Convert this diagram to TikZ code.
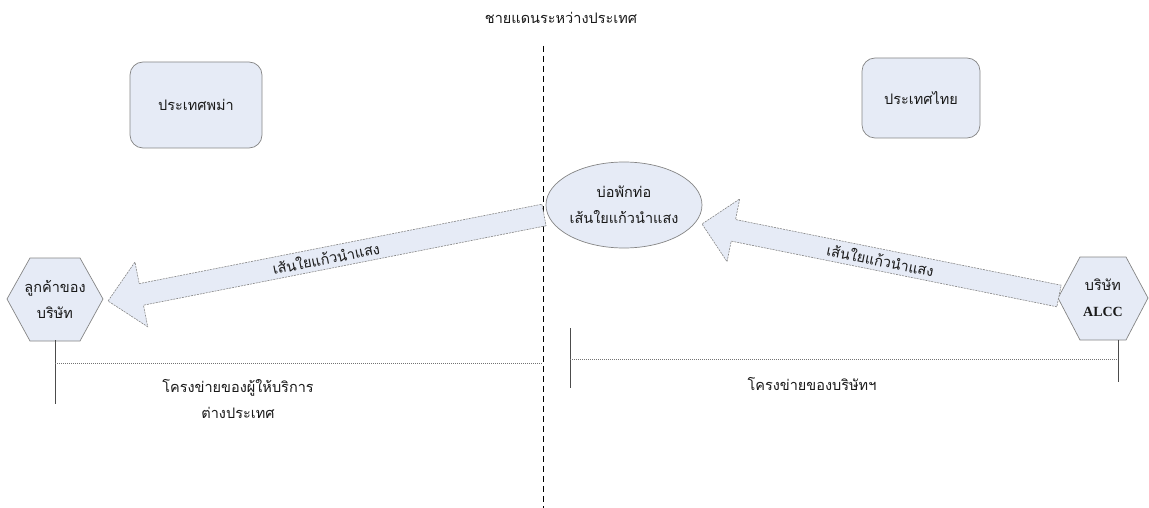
\documentclass[tikz,border=0pt]{standalone}
\usepackage{fontspec}
\setmainfont{Liberation Serif}
\newfontfamily\thai[Script=Thai]{Loma}
\usetikzlibrary{shapes.geometric,calc}
\definecolor{boxfill}{HTML}{E6EBF6}
\definecolor{edgegray}{HTML}{858585}
\tikzset{
  thaitext/.style={font=\thai\fontsize{14.5}{26}\selectfont, text=black!90, align=center},
  country/.style={thaitext, draw=edgegray, fill=boxfill, rounded corners=13pt, line width=0.7pt},
  hexline/.style={draw=edgegray, fill=boxfill, line width=0.7pt},
  hextext/.style={thaitext, inner sep=0pt},
  pit/.style={thaitext, ellipse, draw=edgegray, fill=boxfill, line width=0.7pt, minimum width=156pt, minimum height=86pt, inner sep=0pt},
  blockarrow/.style={draw=edgegray, fill=boxfill, line width=0.6pt, dash pattern=on 2pt off 1pt, line join=miter},
  border/.style={draw=black, line width=0.8pt, dash pattern=on 6pt off 4pt},
  netline/.style={draw=black!70, line width=0.8pt},
  netdots/.style={draw=black!55, line width=0.8pt, dash pattern=on 1pt off 1pt},
  label/.style={thaitext}
}
\begin{document}
\begin{tikzpicture}[x=1pt,y=-1pt]
\useasboundingbox (0,0) rectangle (1149,508);
% title and border
\node[label] (title) at (561,18) {ชายแดนระหว่างประเทศ};
\coordinate (btop) at (543,46);
\coordinate (bbot) at (543,508);
\draw[border] (btop) -- (bbot);
% country boxes
\node[country, minimum width=132pt, minimum height=86pt] (burma) at (196,105) {ประเทศพม่า};
\node[country, minimum width=118pt, minimum height=80pt] (thailand) at (921,98) {ประเทศไทย};
% hexagons
\coordinate (custc) at (55,299);
\draw[hexline] ($(custc)+(-48,0)$) -- ++(23,-41) -- ++(50,0) -- ++(23,41) -- ++(-23,42) -- ++(-50,0) -- cycle;
\node[hextext] (cust) at (custc) {ลูกค้าของ\\บริษัท};
\coordinate (alccc) at (1103,298);
\draw[hexline] ($(alccc)+(-45,0)$) -- ++(22,-41) -- ++(46,0) -- ++(22,41) -- ++(-22,42) -- ++(-46,0) -- cycle;
\node[hextext] (alcc) at (alccc) {บริษัท\\\fontsize{14}{26}\selectfont\rmfamily\bfseries ALCC};
% manhole ellipse
\node[pit] (pit) at (624,205) {บ่อพักท่อ\\เส้นใยแก้วนำแสง};
% left block arrow: from pit to customer
\coordinate (las) at (544,215);
\coordinate (lat) at (108,301);
\coordinate (lab) at ($(lat)!34pt!(las)$);
\draw[blockarrow] ($(las)!11pt!90:(lat)$) -- ($(lab)!11pt!-90:(las)$) -- ($(lab)!33pt!-90:(las)$) -- (lat)
   -- ($(lab)!33pt!90:(las)$) -- ($(lab)!11pt!90:(las)$) -- ($(las)!11pt!-90:(lat)$) -- cycle;
\path (las) -- (lat) node[label, midway, sloped] (lalabel) {เส้นใยแก้วนำแสง};
% right block arrow: from ALCC to pit
\coordinate (ras) at (1059,296);
\coordinate (rat) at (702,224);
\coordinate (rab) at ($(rat)!32pt!(ras)$);
\draw[blockarrow] ($(ras)!11pt!90:(rat)$) -- ($(rab)!11pt!-90:(ras)$) -- ($(rab)!32pt!-90:(ras)$) -- (rat)
   -- ($(rab)!32pt!90:(ras)$) -- ($(rab)!11pt!90:(ras)$) -- ($(ras)!11pt!-90:(rat)$) -- cycle;
\path (ras) -- (rat) node[label, midway, sloped] (ralabel) {เส้นใยแก้วนำแสง};
% networks
\coordinate (lnet1) at (55,340);
\coordinate (lnet2) at (55,404);
\coordinate (lnetd) at (55,363);
\coordinate (lnete) at (543,363);
\draw[netline] (lnet1) -- (lnet2);
\draw[netdots] (lnetd) -- (lnete);
\node[label] (foreign) at (238,399) {โครงข่ายของผู้ให้บริการ\\ต่างประเทศ};
\coordinate (rnet1) at (570,328);
\coordinate (rnet2) at (570,388);
\coordinate (rnet3) at (1118,340);
\coordinate (rnet4) at (1118,382);
\coordinate (rnetd) at (570,359);
\coordinate (rnete) at (1118,359);
\draw[netline] (rnet1) -- (rnet2);
\draw[netline] (rnet3) -- (rnet4);
\draw[netdots] (rnetd) -- (rnete);
\node[label] (company) at (812,384) {โครงข่ายของบริษัทฯ};
\end{tikzpicture}
\end{document}
